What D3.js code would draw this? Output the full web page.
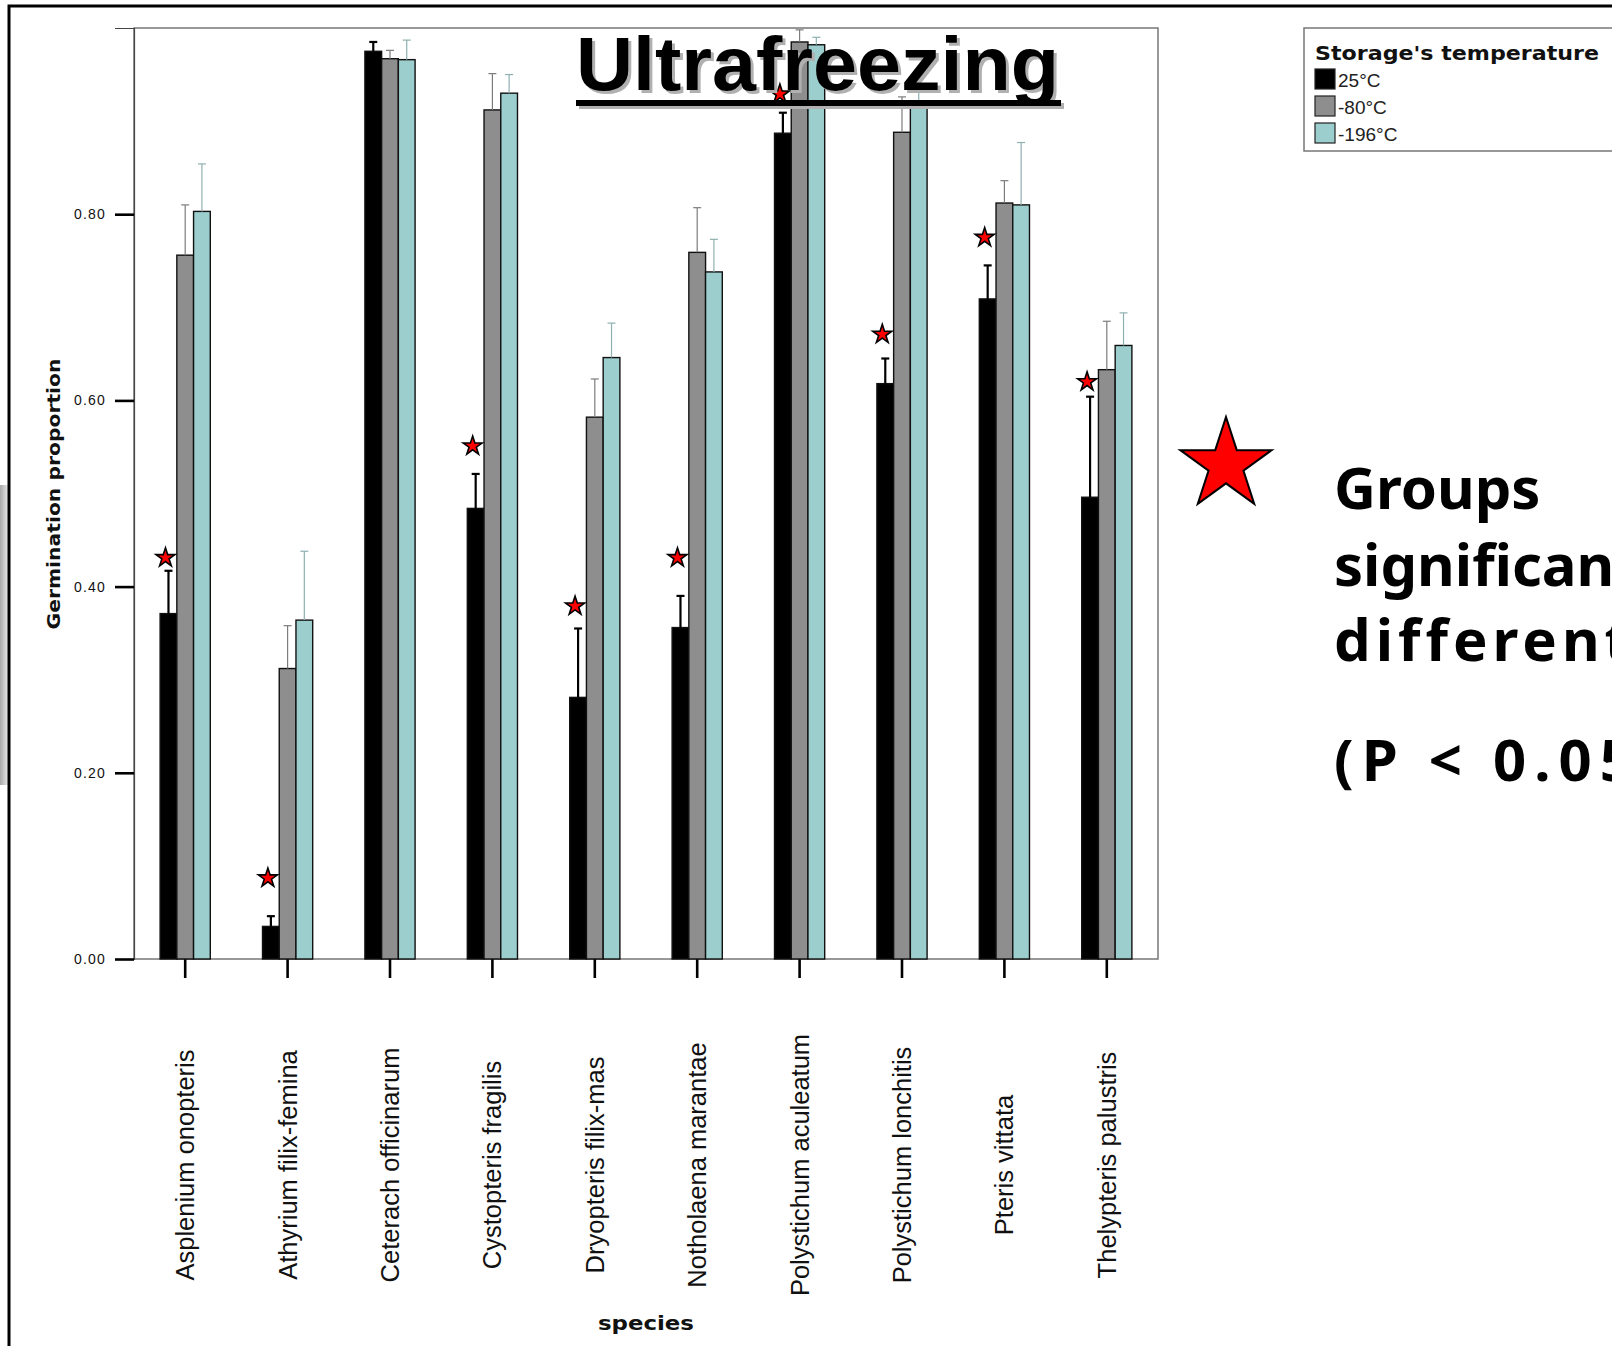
<!DOCTYPE html>
<html><head><meta charset="utf-8">
<script src="https://cdn.jsdelivr.net/npm/d3@7"></script>
<style>body{margin:0;background:#fff;overflow:hidden}svg{display:block}</style>
</head><body>
<svg id="c" width="1612" height="1346"></svg>
<script>
// ---- data ----
const species = ["Asplenium onopteris","Athyrium filix-femina","Ceterach officinarum","Cystopteris fragilis","Dryopteris filix-mas","Notholaena marantae","Polystichum aculeatum","Polystichum lonchitis","Pteris vittata","Thelypteris palustris"];
const seriesNames = ["25°C","-80°C","-196°C"];
const mean25  = [0.371,0.035,0.975,0.484,0.281,0.356,0.887,0.618,0.709,0.496];
const upper25 = [0.417,0.046,0.985,0.521,0.355,0.390,0.909,0.645,0.745,0.604];
const mean80  = [0.756,0.312,0.967,0.912,0.582,0.759,0.985,0.888,0.812,0.633];
const upper80 = [0.810,0.358,0.976,0.951,0.623,0.807,0.998,0.926,0.836,0.685];
const mean196  = [0.803,0.364,0.966,0.930,0.646,0.738,0.982,0.915,0.810,0.659];
const upper196 = [0.854,0.438,0.987,0.950,0.683,0.773,0.990,0.955,0.877,0.694];
const starAt = [0.431,0.087,null,0.551,0.379,0.431,0.929,0.671,0.775,0.620];
const yTicks = [0,0.2,0.4,0.6,0.8];
const titleText = "Ultrafreezing";
const legendTitle = "Storage's temperature";
const noteLines = ["Groups","significantly","different","(P < 0.05)"];

const means = [mean25, mean80, mean196];
const uppers = [upper25, upper80, upper196];
const fills = ["#000000","#8e8e8e","#9dcece"];
const errColors = ["#000000","#7c7c7c","#8fb0b0"];
const errWidths = [2.2,1.2,1.2];

const svg = d3.select("#c");

// left smudge artifact
const defs = svg.append("defs");
const grad = defs.append("linearGradient").attr("id","sm").attr("x1",0).attr("x2",1);
grad.append("stop").attr("offset",0).attr("stop-color","#a8a8a8");
grad.append("stop").attr("offset",1).attr("stop-color","#e8e8e8");
svg.append("rect").attr("x",0).attr("y",485).attr("width",8).attr("height",300).attr("fill","url(#sm)");

// outer frame
svg.append("rect").attr("x",9).attr("y",6).attr("width",1700).attr("height",1400)
  .attr("fill","none").attr("stroke","#000").attr("stroke-width",3);

// scales
const plot = {l:134, r:1158, t:28, b:959};
const x0 = d3.scaleBand().domain(species).range([plot.l, plot.r]).paddingInner(0.51).paddingOuter(0.255);
const x1 = d3.scaleBand().domain(d3.range(3)).range([0, x0.bandwidth()]);
const y = d3.scaleLinear().domain([0,1]).range([plot.b, plot.t]);

// plot frame
svg.append("rect").attr("x",plot.l).attr("y",plot.t).attr("width",plot.r-plot.l).attr("height",plot.b-plot.t)
  .attr("fill","none").attr("stroke","#777").attr("stroke-width",1.5);

// y axis
const yAxis = d3.axisLeft(y).tickValues(yTicks).tickFormat(d3.format(".2f")).tickSize(19).tickPadding(9);
const ga = svg.append("g").attr("transform",`translate(${plot.l},0)`).call(yAxis);
ga.select(".domain").attr("stroke","#444").attr("stroke-width",1.2);
ga.selectAll(".tick line").attr("stroke","#000").attr("stroke-width",2.6);
ga.selectAll(".tick text").attr("font-family","Liberation Sans, Arial, sans-serif").attr("font-size",14)
  .attr("letter-spacing","1.2px").attr("fill","#111");

// x axis
const xAxis = d3.axisBottom(x0).tickSize(19).tickFormat("");
const gx = svg.append("g").attr("transform",`translate(0,${plot.b})`).call(xAxis);
gx.select(".domain").remove();
gx.selectAll(".tick line").attr("stroke","#000").attr("stroke-width",2.6);

// bars
const groups = svg.append("g").selectAll("g").data(species).join("g")
  .attr("transform", d => `translate(${x0(d)},0)`);
for (let s = 0; s < 3; s++) {
  groups.append("rect")
    .attr("x", x1(s)).attr("width", x1.bandwidth())
    .attr("y", (d,i) => y(means[s][i]))
    .attr("height", (d,i) => y(0) - y(means[s][i]))
    .attr("fill", fills[s]).attr("stroke","#111").attr("stroke-width",1.4);
}
// error bars
for (let s = 0; s < 3; s++) {
  const cx = x1(s) + x1.bandwidth()/2;
  groups.append("line")
    .attr("x1",cx).attr("x2",cx)
    .attr("y1",(d,i)=>y(means[s][i])).attr("y2",(d,i)=>y(uppers[s][i]))
    .attr("stroke",errColors[s]).attr("stroke-width",errWidths[s]);
  groups.append("line")
    .attr("x1",cx-4).attr("x2",cx+4)
    .attr("y1",(d,i)=>y(uppers[s][i])).attr("y2",(d,i)=>y(uppers[s][i]))
    .attr("stroke",errColors[s]).attr("stroke-width",errWidths[s]);
}
// significance stars
const smallStar = d3.symbol().type(d3.symbolStar).size(10*10/0.8908130915);
groups.filter((d,i)=>starAt[i]!==null).append("path")
  .attr("d", smallStar)
  .attr("transform",(d)=>{const i=species.indexOf(d);return `translate(${x1(0)+x1.bandwidth()/2-3},${y(starAt[i])})`;})
  .attr("fill","#ff0000").attr("stroke","#000").attr("stroke-width",1.6);

// x labels
svg.append("g").selectAll("text").data(species).join("text")
  .attr("transform", d => `translate(${x0(d)+x0.bandwidth()/2},1165) rotate(-90)`)
  .attr("text-anchor","middle").attr("dominant-baseline","central")
  .attr("font-family","Liberation Sans, Arial, sans-serif").attr("font-size",25.5).attr("fill","#111")
  .text(d=>d);

// axis titles
svg.append("text").attr("transform","translate(53,494) rotate(-90)")
  .attr("text-anchor","middle").attr("dominant-baseline","central")
  .attr("font-family","DejaVu Sans, sans-serif").attr("font-weight","bold").attr("font-size",18)
  .attr("textLength",271).attr("lengthAdjust","spacingAndGlyphs").attr("fill","#111")
  .text("Germination proportion");
svg.append("text").attr("x",646).attr("y",1330).attr("text-anchor","middle")
  .attr("font-family","DejaVu Sans, sans-serif").attr("font-weight","bold").attr("font-size",19)
  .attr("textLength",96).attr("lengthAdjust","spacingAndGlyphs").attr("fill","#111")
  .text("species");

// chart title with shadow
const tg = svg.append("g");
[[3,3,"#b0b0b0"],[0,0,"#000"]].forEach(([dx,dy,c])=>{
  tg.append("text").attr("x",576+dx).attr("y",90+dy)
    .attr("font-family","Liberation Sans, Arial, sans-serif").attr("font-weight","bold").attr("font-size",76)
    .attr("textLength",483).attr("lengthAdjust","spacingAndGlyphs").attr("fill",c).text(titleText);
  tg.append("rect").attr("x",576+dx).attr("y",100+dy).attr("width",485).attr("height",6).attr("fill",c);
});

// legend
const lg = svg.append("g");
lg.append("rect").attr("x",1304).attr("y",28).attr("width",400).attr("height",123)
  .attr("fill","#fff").attr("stroke","#777").attr("stroke-width",1.5);
lg.append("text").attr("x",1315).attr("y",60)
  .attr("font-family","DejaVu Sans, sans-serif").attr("font-weight","bold").attr("font-size",20)
  .attr("textLength",284).attr("lengthAdjust","spacingAndGlyphs").attr("fill","#111").text(legendTitle);
const legY = d3.scalePoint().domain(d3.range(3)).range([69,123]);
lg.selectAll("rect.sw").data(d3.range(3)).join("rect").attr("class","sw")
  .attr("x",1315).attr("y",d=>legY(d)).attr("width",20).attr("height",20)
  .attr("fill",d=>fills[d]).attr("stroke","#222").attr("stroke-width",1.2);
lg.selectAll("text.lb").data(d3.range(3)).join("text").attr("class","lb")
  .attr("x",1338).attr("y",d=>legY(d)+18)
  .attr("font-family","Liberation Sans, Arial, sans-serif").attr("font-size",19).attr("fill","#222")
  .text(d=>seriesNames[d]);

// big star + note
svg.append("path").attr("d", d3.symbol().type(d3.symbolStar).size(48*48/0.8908130915))
  .attr("transform","translate(1226,465)")
  .attr("fill","#ff0000").attr("stroke","#000").attr("stroke-width",2);
const noteY = [509,586,661,781];
const noteSpacing = [0,0,5,8];
svg.append("g").selectAll("text").data(noteLines).join("text")
  .attr("x",1334).attr("y",(d,i)=>noteY[i])
  .attr("letter-spacing",(d,i)=>noteSpacing[i]+"px")
  .attr("font-family","Noto Sans, sans-serif").attr("font-weight","bold").attr("font-size",58).attr("fill","#000")
  .text(d=>d);
</script>
</body></html>
